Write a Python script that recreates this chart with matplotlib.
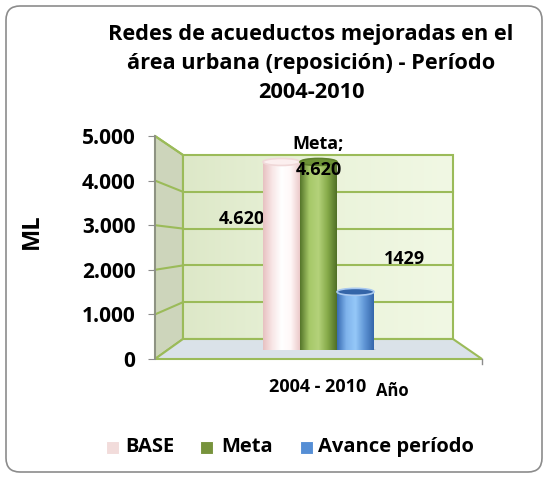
import numpy as np
import matplotlib
matplotlib.use("Agg")
import matplotlib.pyplot as plt
from matplotlib.patches import Polygon, Ellipse, Rectangle, FancyBboxPatch
from matplotlib.colors import LinearSegmentedColormap

plt.rcParams['font.family'] = ['Open Sans', 'DejaVu Sans']
plt.rcParams['font.weight'] = 'bold'

# datos
series = ["BASE", "Meta", "Avance período"]
valores = [4620, 4620, 1429]
etiquetas = ["4.620", "Meta;\n4.620", "1429"]
ticks = [0, 1000, 2000, 3000, 4000, 5000]
tick_labels = ["0", "1.000", "2.000", "3.000", "4.000", "5.000"]
titulo = "Redes de acueductos mejoradas en el\nárea urbana (reposición) - Período\n2004-2010"
colores_leyenda = ["#f2dcdb", "#77933c", "#558ed5"]

W, H = 548, 478
fig = plt.figure(figsize=(W / 100, H / 100), dpi=100)

# capa de fondo en pixeles
bg = fig.add_axes([0, 0, 1, 1])
bg.set_xlim(0, W)
bg.set_ylim(H, 0)
bg.axis("off")
bg.add_patch(FancyBboxPatch((6, 6), W - 12, H - 12, boxstyle="round,pad=0,rounding_size=14",
                            fc="white", ec="#8c8c8c", lw=1.2))

# caja 3D: pared lateral, pared trasera y piso
fx0, fy0, fy5 = 155, 359, 136      # eje frontal
bx0, bx1, by0, by5 = 183, 453, 339, 155  # pared trasera
fx1 = 482
green = "#9bbb59"

bg.add_patch(Polygon([(fx0, fy0), (fx0, fy5), (bx0, by5), (bx0, by0)], fc="#cdd5bb", ec=green, lw=1.5))
# degradado pared trasera
cm_wall = LinearSegmentedColormap.from_list("w", ["#dde8c8", "#eaf3da", "#f1f8e4"])
im = bg.imshow(np.linspace(0, 1, 100)[None, :], cmap=cm_wall,
               extent=[bx0, bx1, by0, by5], aspect="auto", zorder=1)
wall = Rectangle((bx0, by5), bx1 - bx0, by0 - by5, fc="none", ec=green, lw=1.5, zorder=2)
bg.add_patch(wall)
im.set_clip_path(wall)
bg.add_patch(Polygon([(fx0, fy0), (fx1, fy0), (bx1, by0), (bx0, by0)], fc="#dae2e9", ec=green, lw=1.5, zorder=2))
bg.plot([fx1, fx1], [fy0, fy0 + 5], color="#8c8c8c", lw=1, zorder=3)

for t in ticks[1:-1]:
    yb = by0 - t * (by0 - by5) / 5000
    yf = fy0 - t * (fy0 - fy5) / 5000
    bg.plot([bx0, bx1], [yb, yb], color=green, lw=1.5, zorder=2)
    bg.plot([fx0, bx0], [yf, yb], color=green, lw=1.5, zorder=2)
bg.plot([fx0, bx0], [fy5, by5], color=green, lw=1.5, zorder=2)

# eje frontal con las marcas
ax = fig.add_axes([fx0 / W, 1 - fy0 / H, (fx1 - fx0) / W, (fy0 - fy5) / H])
ax.patch.set_alpha(0)
ax.set_ylim(0, 5000)
ax.set_xlim(0, 1)
for s in ["top", "right", "bottom"]:
    ax.spines[s].set_visible(False)
ax.spines["left"].set_color("#8c8c8c")
ax.spines["left"].set_linewidth(1.2)
ax.set_xticks([])
ax.set_yticks(ticks)
ax.set_yticklabels(tick_labels, fontsize=15, fontweight="bold")
ax.tick_params(axis="y", length=5, color="#8c8c8c", pad=9)

# barras (cilindros)
px_unit = 37.0
base_y = 350
scale = 0.0407  # px por unidad
cx0 = 281.5
bar_ax = fig.add_axes([fx0 / W, 1 - base_y / H, (fx1 - fx0) / W, (base_y - 120) / H])
bar_ax.patch.set_alpha(0)
bar_ax.axis("off")
bar_ax.set_zorder(5)

cuerpos = [
    ["#e7c1c1", "#f8e6e6", "#ffffff", "#fff8f8", "#eccaca"],
    ["#55752a", "#a6c868", "#b4d27a", "#86aa49", "#4f6f26"],
    ["#386cb2", "#7fb3ec", "#95c8f8", "#5f95d5", "#3466ab"],
]
tapas = ["#fcefef", "#6d9236", "#3465a8"]
bordes = ["#f0d8d8", "#5d7f2c", "#a9c9f0"]
eh = 7 / scale

for i, v in enumerate(valores):
    x = i
    cm = LinearSegmentedColormap.from_list("c%d" % i, cuerpos[i])
    g = np.linspace(0, 1, 200)[None, :]
    # sombra
    bar_ax.add_patch(Ellipse((x + 0.05, -40), 1.1, eh * 1.3, fc="#9aa3ab", alpha=0.5, ec="none", zorder=1))
    im1 = bar_ax.imshow(g, cmap=cm, extent=[x - 0.5, x + 0.5, 0, v], aspect="auto", zorder=2)
    r = Rectangle((x - 0.5, 0), 1, v, transform=bar_ax.transData)
    im1.set_clip_path(r)
    im2 = bar_ax.imshow(g, cmap=cm, extent=[x - 0.5, x + 0.5, -eh, eh], aspect="auto", zorder=2)
    e = Ellipse((x, 0), 1, eh, transform=bar_ax.transData)
    im2.set_clip_path(e)
    bar_ax.add_patch(Ellipse((x, v), 1, eh, fc=tapas[i], ec=bordes[i], lw=1.2, zorder=3))

bar_ax.set_xlim(-(cx0 - fx0) / px_unit, (fx1 - cx0) / px_unit)
bar_ax.set_ylim(0, (base_y - 120) / scale)

# etiquetas de datos
bg.text(241.5, 219.5, etiquetas[0], ha="center", va="center", fontsize=13, fontweight="bold", zorder=10)
fig.text(318.5 / W, 1 - 157 / H, etiquetas[1], ha="center", va="center", fontsize=13,
         fontweight="bold", linespacing=1.55, zorder=10)
bg.text(404.5, 259.5, etiquetas[2], ha="center", va="center", fontsize=13, fontweight="bold", zorder=10)

# titulo y ejes
bg.text(311, 63, titulo, ha="center", va="center", fontsize=15.7, fontweight="bold", linespacing=1.5)
bg.text(32, 231, "ML", rotation=90, ha="center", va="center", fontsize=17, fontweight="bold")
bg.text(318, 387.5, "2004 - 2010", ha="center", va="center", fontsize=13, fontweight="bold")
bg.text(392, 391, "Año", ha="center", va="center", fontsize=12, fontweight="bold")

# leyenda
for xs, xt, nombre, c in zip([106, 200, 300], [125, 221, 318], series, colores_leyenda):
    bg.add_patch(Rectangle((xs, 441), 13, 13, fc=c, ec="white", lw=0.8))
    bg.text(xt, 447, nombre, ha="left", va="center", fontsize=14.5, fontweight="bold")

fig.savefig("out.png", dpi=100)
